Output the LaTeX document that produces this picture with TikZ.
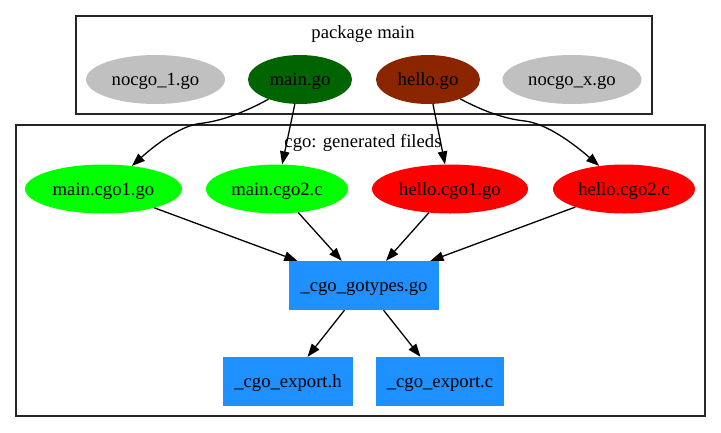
\documentclass[tikz,border=0pt]{standalone}
\usepackage{fontspec}
\setmainfont{Liberation Serif}
\usetikzlibrary{shapes.geometric,arrows.meta}
\definecolor{nocgo}{RGB}{192,192,192}
\definecolor{dgreen}{RGB}{0,100,0}
\definecolor{orred}{RGB}{139,37,0}
\definecolor{lgreen}{RGB}{0,255,0}
\definecolor{rred}{RGB}{255,0,0}
\definecolor{dblue}{RGB}{30,144,255}
\tikzset{
  file/.style={ellipse,inner sep=0pt,minimum height=49pt,draw=none,text height=13pt,text depth=1pt},
  genbox/.style={rectangle,inner sep=0pt,fill=dblue,minimum height=49pt,text height=13pt,text depth=2pt},
  cluster/.style={draw=black!85,line width=1.2pt},
  lbl/.style={inner sep=0pt,anchor=base},
  edge/.style={draw=black,line width=1.3pt,-{Triangle[length=13pt,width=9.5pt]}},
}
\begin{document}
\begin{tikzpicture}[x=1pt,y=-1pt,font=\fontsize{18.67}{22}\selectfont]
\useasboundingbox (0,0) rectangle (721,432);
% clusters
\draw[cluster] (76,16) rectangle (652,114);
\draw[cluster] (16,125) rectangle (705,416);
\node[lbl] (t1) at (363,38) {package main};
\node[lbl] (t2) at (363,147) {cgo: generated fileds};
% package main
\node[file,fill=nocgo,minimum width=139pt] (n1) at (155.5,79.5) {nocgo\_1.go};
\node[file,fill=dgreen,minimum width=104pt] (mg) at (300,79.5) {main.go};
\node[file,fill=orred,minimum width=104pt] (hg) at (428,79.5) {hello.go};
\node[file,fill=nocgo,minimum width=139pt] (nx) at (572,79.5) {nocgo\_x.go};
% generated
\node[file,fill=lgreen,minimum width=157pt] (m1) at (103.5,189) {main.cgo1.go};
\node[file,fill=lgreen,minimum width=142pt] (m2) at (277,189) {main.cgo2.c};
\node[file,fill=rred,minimum width=156pt] (h1) at (450,189) {hello.cgo1.go};
\node[file,fill=rred,minimum width=142pt] (h2) at (624,189) {hello.cgo2.c};
\node[genbox,minimum width=150pt] (gt) at (364,285.5) {\_cgo\_gotypes.go};
\node[genbox,minimum width=130pt] (eh) at (288,381.5) {\_cgo\_export.h};
\node[genbox,minimum width=128pt] (ec) at (440,381.5) {\_cgo\_export.c};
% edges
\draw[edge] (mg.-148.6) .. controls (245,112) and (222,121) .. (200,123.5)
  .. controls (180,126) and (155,145) .. (m1.39);
\draw[edge] (mg) -- (m2);
\draw[edge] (hg) -- (h1);
\draw[edge] (hg.-31.4) .. controls (483,111) and (505,119) .. (525,121)
  .. controls (548,124) and (575,145) .. (h2.137);
\draw[edge] (m1) -- (gt);
\draw[edge] (m2) -- (gt);
\draw[edge] (h1) -- (gt);
\draw[edge] (h2) -- (gt);
\draw[edge] (gt) -- (eh);
\draw[edge] (gt) -- (ec);
\end{tikzpicture}
\end{document}
